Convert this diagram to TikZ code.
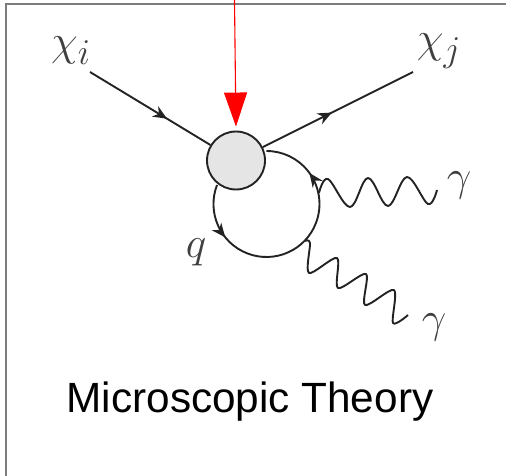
\documentclass[tikz,border=0pt]{standalone}
\usepackage{fontspec}
\setmainfont{Liberation Sans}
\usetikzlibrary{arrows.meta,decorations.markings}
\definecolor{framegray}{RGB}{125,125,125}
\definecolor{linedark}{RGB}{35,35,35}
\definecolor{blobgray}{RGB}{229,229,229}
\begin{document}
\begin{tikzpicture}[x=1pt,y=-1pt,
  fermion/.style={line width=1.9pt, linedark, postaction={decorate},
                  decoration={markings, mark=at position #1 with {\arrow{Stealth[length=14pt,width=12pt]}}}},
  quarkloop/.style={line width=1.9pt, linedark, postaction={decorate},
                  decoration={markings,
                    mark=at position 0.206 with {\arrow{Stealth[length=14pt,width=12pt]}},
                    mark=at position 0.814 with {\arrow{Stealth[length=14pt,width=12pt]}}}},
  photon/.style={line width=1.9pt, linedark, line join=round},
  vertexblob/.style={circle, draw=linedark, fill=blobgray, line width=1.9pt,
                     minimum size=58pt, inner sep=0pt},
  symb/.style={inner sep=0pt, text=black!75, scale=1.75, font=\Huge},
  insertion/.style={-{Triangle[length=34pt,width=23pt]}, red, line width=1.1pt, shorten >=4pt}
]
  \useasboundingbox (0,0) rectangle (506,476);
  \draw[framegray, line width=1.5pt] (6,476) -- (6,4) -- (506,4);
  % quark loop
  \coordinate (loopstart) at (217,185);
  \draw[quarkloop] (loopstart) arc[start angle=159, end angle=450, radius=53pt];
  \node[vertexblob] (blob) at (236,160.5) {};
  \coordinate (intop) at (234.5,0);
  \coordinate (chiin) at (90,72);
  \coordinate (chiout) at (413,72);
  % fermion lines
  \draw[fermion=0.64] (chiin) -- (blob);
  \draw[fermion=0.46] (blob) -- (chiout);
  % photons
  \draw[photon] plot[smooth, tension=0.6] coordinates
    {(319,193) (328,179) (350,207) (368,178) (388,206) (407,177) (428,204) (437,190)};
  \draw[photon] plot[smooth, tension=0.5] coordinates
    {(305,241) (310,243) (309,273) (337,258) (338,288) (366,274) (365,305) (394,290) (393,323) (408,315)};
  % labels
  \node[symb] (chii) at (71,51) {$\chi_i$};
  \node[symb] (chij) at (439,51) {$\chi_j$};
  \node[symb] (gamup) at (459,185) {$\gamma$};
  \node[symb] (gamdown) at (434,327) {$\gamma$};
  \node[symb] (quark) at (196,252) {$q$};
  \node[inner sep=0pt, font=\fontsize{42.3}{50}\selectfont] (title) at (250,402) {Microscopic Theory};
  \draw[insertion] (intop) -- (blob.north);
\end{tikzpicture}
\end{document}
